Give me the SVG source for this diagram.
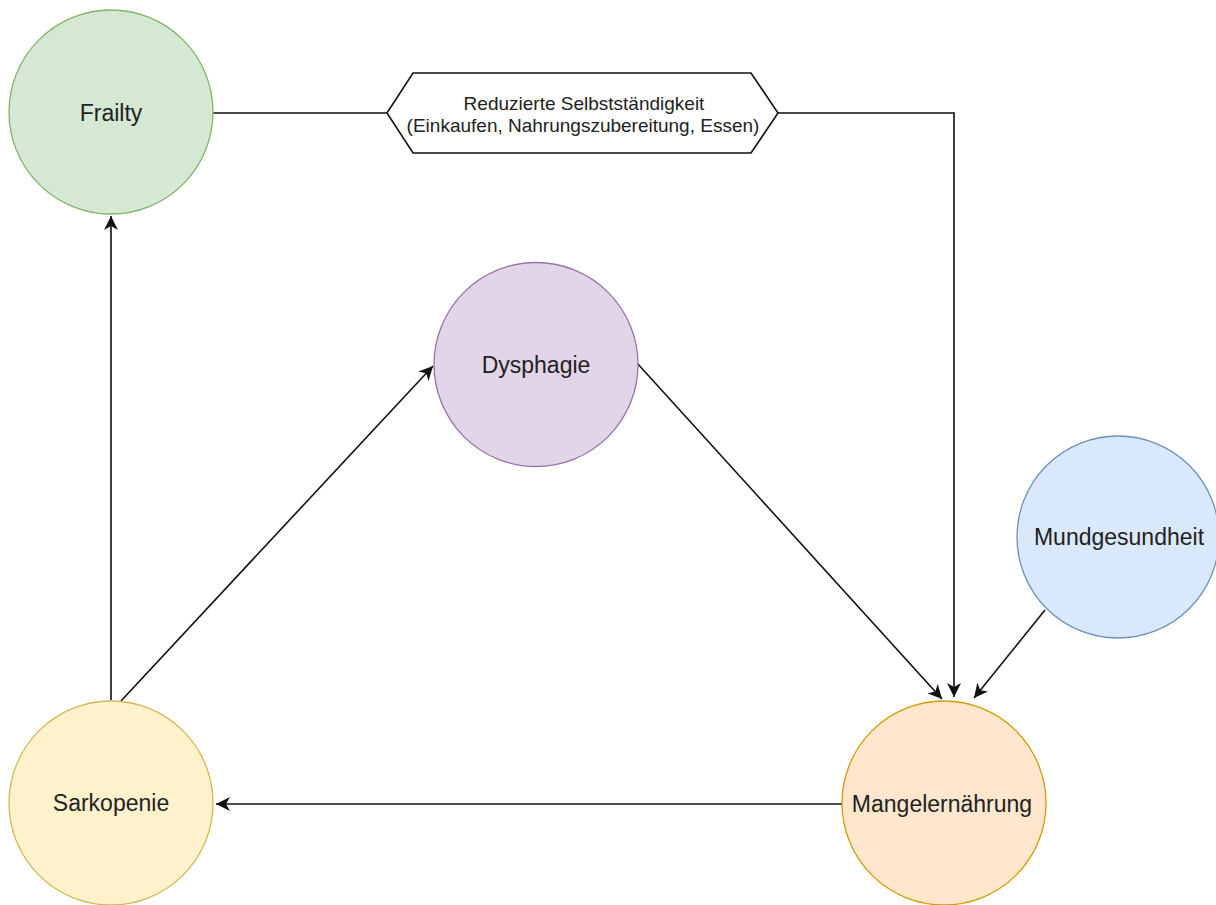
<svg xmlns="http://www.w3.org/2000/svg" width="1216" height="905" viewBox="0 0 1216 905">
<style>
.lbl{font-family:"Liberation Sans",Arial,sans-serif;font-size:23px;fill:#222;text-anchor:middle}
.hx{font-family:"Liberation Sans",Arial,sans-serif;font-size:19px;fill:#222;text-anchor:middle}
.n{stroke-width:1.3}
.e{fill:none;stroke:#111;stroke-width:1.6}
</style>
<defs>
<marker id="arr" markerUnits="userSpaceOnUse" markerWidth="16" markerHeight="14" refX="14" refY="7" orient="auto">
<path d="M0,0 L14,7 L0,14 L4,7 Z" fill="#111"/>
</marker>
</defs>
<rect width="1216" height="905" fill="#fff"/>
<g id="connectors">
<path class="e" d="M213,113 H387"/>
<path class="e" d="M778,113 H954 V697" marker-end="url(#arr)"/>
<path class="e" d="M111,700 V216" marker-end="url(#arr)"/>
<path class="e" d="M121,701 L433,366" marker-end="url(#arr)"/>
<path class="e" d="M637,363 L942,699" marker-end="url(#arr)"/>
<path class="e" d="M1045,610 L974,698" marker-end="url(#arr)"/>
<path class="e" d="M843,804 H216" marker-end="url(#arr)"/>
</g>
<g id="frailty">
<circle class="n" cx="111" cy="112" r="102" fill="#d5e8d4" stroke="#82b366"/>
<text class="lbl" x="111" y="121">Frailty</text>
</g>
<g id="selbststaendigkeit">
<polygon points="387,113 413,73 751,73 778,113 751,153 413,153" fill="#fff" stroke="#111" stroke-width="1.6"/>
<text class="hx" x="584" y="110">Reduzierte Selbstständigkeit</text>
<text class="hx" x="583" y="132">(Einkaufen, Nahrungszubereitung, Essen)</text>
</g>
<g id="dysphagie">
<circle class="n" cx="536" cy="364.5" r="102" fill="#e1d5e7" stroke="#9673a6"/>
<text class="lbl" x="536" y="372.5">Dysphagie</text>
</g>
<g id="mundgesundheit">
<circle class="n" cx="1118" cy="537" r="101" fill="#dae8fc" stroke="#6c8ebf"/>
<text class="lbl" x="1119" y="545">Mundgesundheit</text>
</g>
<g id="sarkopenie">
<circle class="n" cx="111" cy="803" r="102" fill="#fff2cc" stroke="#d6b656"/>
<text class="lbl" x="111" y="811">Sarkopenie</text>
</g>
<g id="mangelernaehrung">
<circle class="n" cx="944" cy="803" r="102" fill="#ffe6cc" stroke="#d79b00"/>
<text class="lbl" x="942" y="812">Mangelernährung</text>
</g>
</svg>
